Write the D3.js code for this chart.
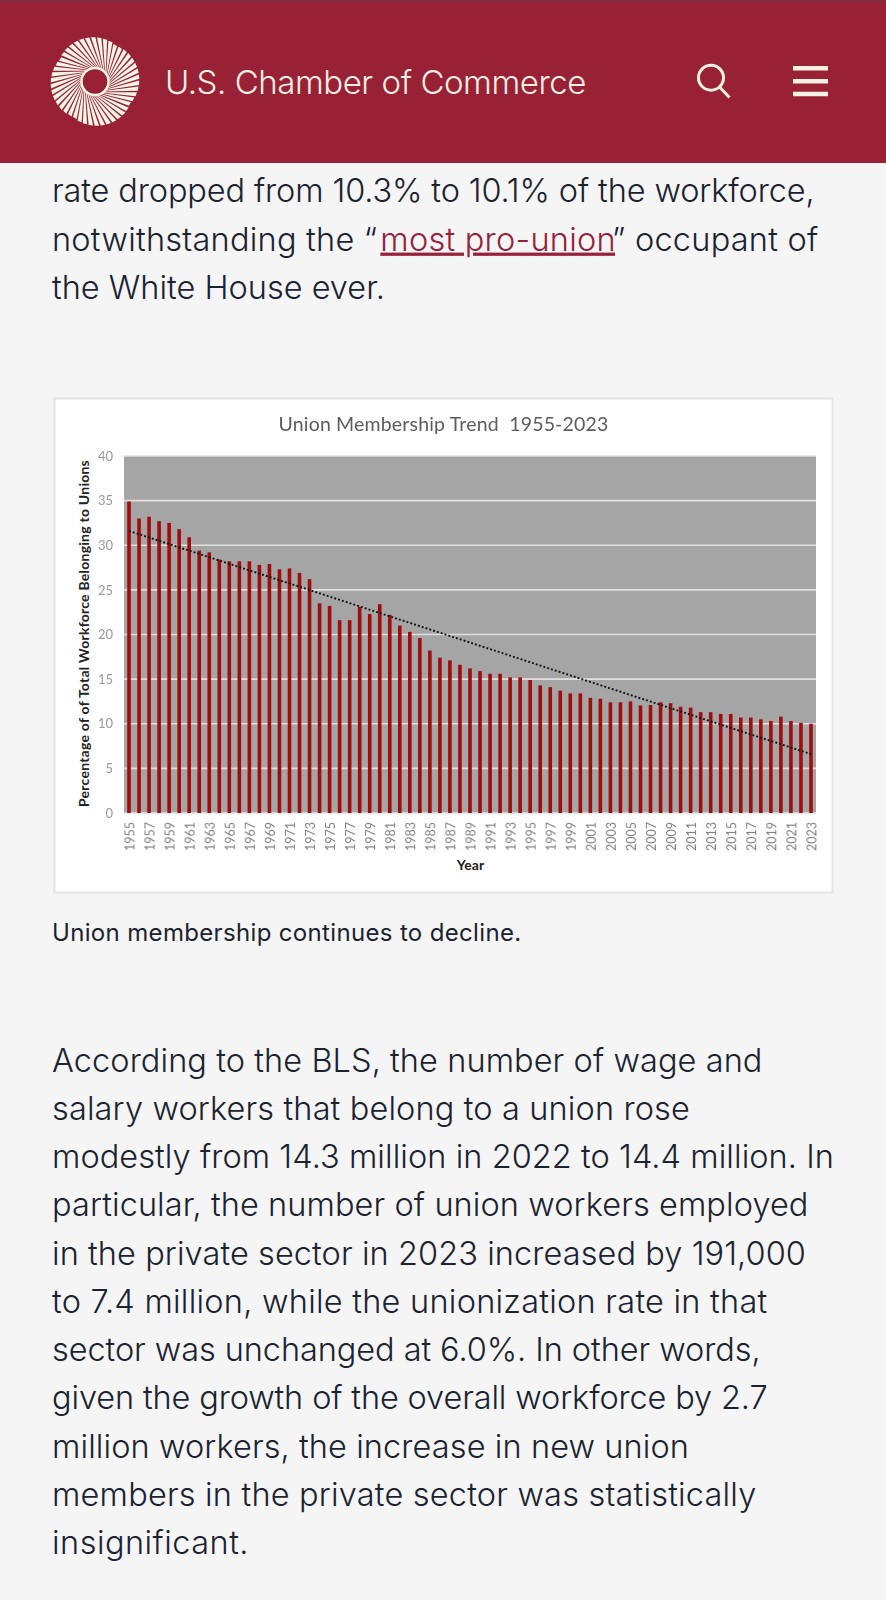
<!DOCTYPE html>
<html><head><meta charset="utf-8">
<script src="https://cdn.jsdelivr.net/npm/d3@7"></script>
<style>
html,body{margin:0;padding:0;background:#f5f5f6;width:886px;height:1600px;overflow:hidden}
svg{display:block}
</style></head><body>
<svg id="page" width="886" height="1600" xmlns="http://www.w3.org/2000/svg"></svg>
<script>
const years = d3.range(1955, 2024);
const membership = [34.9,33.0,33.2,32.7,32.5,31.8,30.9,29.4,29.2,28.4,28.2,28.2,28.2,27.8,27.9,27.3,27.4,26.9,26.2,23.5,23.2,21.6,21.6,23.1,22.3,23.4,22.2,21.0,20.3,19.6,18.2,17.4,17.1,16.6,16.2,15.9,15.6,15.6,15.2,15.2,14.9,14.3,14.1,13.7,13.4,13.4,12.9,12.8,12.4,12.4,12.5,12.05,12.1,12.4,12.3,11.9,11.8,11.3,11.3,11.1,11.1,10.7,10.7,10.5,10.3,10.8,10.3,10.1,10.0];
const trendYears = [1955, 2023];
const trendValues = [31.6, 6.6];
const yTicks = [0,5,10,15,20,25,30,35,40];
const chartTitle = "Union Membership Trend  1955-2023";
const yTitle = "Percentage of of Total Workforce Belonging to Unions";
const xTitle = "Year";
const topLines = ["rate dropped from 10.3% to 10.1% of the workforce,","notwithstanding the “<a>most pro-union</a>” occupant of","the White House ever."];
const bodyLines = ["According to the BLS, the number of wage and","salary workers that belong to a union rose","modestly from 14.3 million in 2022 to 14.4 million. In","particular, the number of union workers employed","in the private sector in 2023 increased by 191,000","to 7.4 million, while the unionization rate in that","sector was unchanged at 6.0%. In other words,","given the growth of the overall workforce by 2.7","million workers, the increase in new union","members in the private sector was statistically","insignificant."];
const caption = "Union membership continues to decline.";
const brand = "U.S. Chamber of Commerce";

// layout: right edges of the wrapped lines
const topEnds = [814.5,818.5,385];
const bodyEnds = [762.5,690,834,808.5,806,767.5,760.5,767.5,689,756.5,249];

const svg = d3.select("#page");
const FF = "Inter, sans-serif";
const CF = "Lato, sans-serif";
const defs = svg.append("defs");
defs.append("filter").attr("id","soft").attr("x","-2%").attr("y","-2%").attr("width","104%").attr("height","104%")
  .append("feGaussianBlur").attr("stdDeviation",0.5);
defs.append("filter").attr("id","softer").attr("x","-5%").attr("y","-5%").attr("width","110%").attr("height","110%")
  .append("feGaussianBlur").attr("stdDeviation",0.3);

function fit(t, width){
  const n = t.text().length;
  const w = t.node().getComputedTextLength();
  t.attr("letter-spacing",(width-w)/n);
}

function para(lines, ends, y0, lh){
  lines.forEach((l,i)=>{
    const t = svg.append("text").attr("x",52).attr("y",y0+i*lh)
      .attr("font-family",FF).attr("font-weight",300).attr("font-size",32.5).attr("fill","#1b2230");
    let afterLink = false;
    l.split(/(<a>.*?<\/a>)/).forEach(p=>{
      if(p.startsWith("<a>")){
        t.append("tspan").text(p.replace(/<\/?a>/g,"")).attr("dx",3).attr("fill","#97213a").attr("text-decoration","underline");
        afterLink = true;
      } else {
        const s = t.append("tspan").text(p);
        if(afterLink) s.attr("dx",-3);
      }
    });
    fit(t, ends[i]-52);
  });
}
para(topLines,topEnds,202,48.6);
para(bodyLines,bodyEnds,1071.5,48.25);
const cap = svg.append("text").attr("x",52).attr("y",941).attr("font-family",FF).attr("font-weight",400).attr("font-size",24).attr("fill","#1b2230").text(caption);
fit(cap,469.5);

// header
svg.append("rect").attr("width",886).attr("height",163).attr("fill","#982136");
svg.append("rect").attr("width",886).attr("height",2.5).attr("fill","#84293f");
const bt = svg.append("text").attr("x",165).attr("y",94).attr("font-family",FF).attr("font-weight",300).attr("font-size",33).attr("fill","#f8efe4").text(brand);
fit(bt,421);

// logo
const logo = svg.append("g").attr("transform","translate(95,81.5)");
const spokes = d3.range(0,46);
logo.selectAll("polygon").data(spokes).join("polygon")
  .attr("fill","#f6f4e6")
  .attr("points",i=>{
    const a=i/spokes.length*2*Math.PI+0.3, q=a-0.55;
    const r=41+3.5*Math.abs(Math.sin(2*q))**0.6, ai=a+0.6, w=0.05, wi=0.035;
    return [[Math.cos(ai-wi)*14,Math.sin(ai-wi)*14],[Math.cos(a-w)*r,Math.sin(a-w)*r],[Math.cos(a+w)*r,Math.sin(a+w)*r],[Math.cos(ai+wi)*14,Math.sin(ai+wi)*14]].map(p=>p.join(",")).join(" ");
  });
logo.append("circle").attr("r",13.5).attr("fill","none").attr("stroke","#eef5e2").attr("stroke-width",2.5);
logo.append("circle").attr("r",11.5).attr("fill","#982136");

// icons
const ic = svg.append("g").attr("fill","none").attr("stroke","#fbf1e3");
ic.append("circle").attr("cx",711).attr("cy",77.7).attr("r",12.5).attr("stroke-width",3);
ic.append("line").attr("x1",719.5).attr("y1",87).attr("x2",729.5).attr("y2",97.5).attr("stroke-width",3);
[68.3,81.3,94].forEach(y=>ic.append("line").attr("x1",793).attr("x2",828).attr("y1",y).attr("y2",y).attr("stroke-width",4.4));

// card
svg.append("rect").attr("x",54.5).attr("y",398.5).attr("width",778).attr("height",494).attr("fill","#fff").attr("stroke","#e4e4e6").attr("stroke-width",2);
const ct = svg.append("text").attr("x",278.5).attr("y",431).style("white-space","pre").attr("font-family",CF).attr("font-size",19.5).attr("fill","#5c5c5c").attr("filter","url(#softer)").text(chartTitle);
fit(ct,330);

// chart
const x = d3.scaleBand().domain(years).range([124,816]);
const y = d3.scaleLinear().domain([0,40]).range([813,456]);
const plot = svg.append("g").attr("filter","url(#soft)");
plot.append("rect").attr("x",124).attr("y",456).attr("width",692).attr("height",357).attr("fill","#a5a5a5");
plot.append("g").selectAll("line").data(yTicks).join("line").attr("x1",124).attr("x2",816).attr("y1",d=>y(d)).attr("y2",d=>y(d)).attr("stroke","#e0e0e0").attr("stroke-width",1.7);
plot.append("g").selectAll("rect").data(membership).join("rect")
 .attr("x",(d,i)=>x(years[i])+x.bandwidth()/2-1.8).attr("width",3.6)
 .attr("y",d=>y(d)).attr("height",d=>y(0)-y(d)).attr("fill","#a00a10");
const trend = d3.line().x(d=>x(d[0])+x.bandwidth()/2).y(d=>y(d[1]));
plot.append("path").attr("d",trend(trendYears.map((t,i)=>[t,trendValues[i]]))).attr("fill","none").attr("stroke","#111").attr("stroke-width",1.9).attr("stroke-dasharray","1.9 2.1");

// axes
const yAxis = d3.axisLeft(y).tickValues(yTicks).tickSize(0).tickPadding(11);
const ya = svg.append("g").attr("transform","translate(124,0)").call(yAxis);
ya.select(".domain").remove();
ya.selectAll("text").attr("font-family",CF).attr("font-size",13).attr("fill","#999").attr("filter","url(#softer)");
const xAxis = d3.axisBottom(x).tickValues(years.filter(d=>(d-1955)%2==0)).tickSize(0).tickFormat(d3.format("d"));
const xa = svg.append("g").attr("transform","translate(0,813)").call(xAxis);
xa.select(".domain").remove();
xa.selectAll("text").attr("font-family",CF).attr("font-size",12.5).attr("fill","#808080")
  .attr("text-anchor","end").attr("dy",0).attr("y",0)
  .attr("transform","translate(5.4,9) rotate(-90)").attr("filter","url(#softer)");
svg.append("text").attr("x",470.5).attr("y",869.5).attr("text-anchor","middle").attr("font-family",CF).attr("font-weight",700).attr("font-size",14).attr("fill","#222").text(xTitle);
const yt = svg.append("text").attr("transform","translate(88.5,807) rotate(-90)").attr("font-family",CF).attr("font-weight",700).attr("font-size",14).attr("fill","#222").text(yTitle);
fit(yt,347);
</script>
</body></html>
